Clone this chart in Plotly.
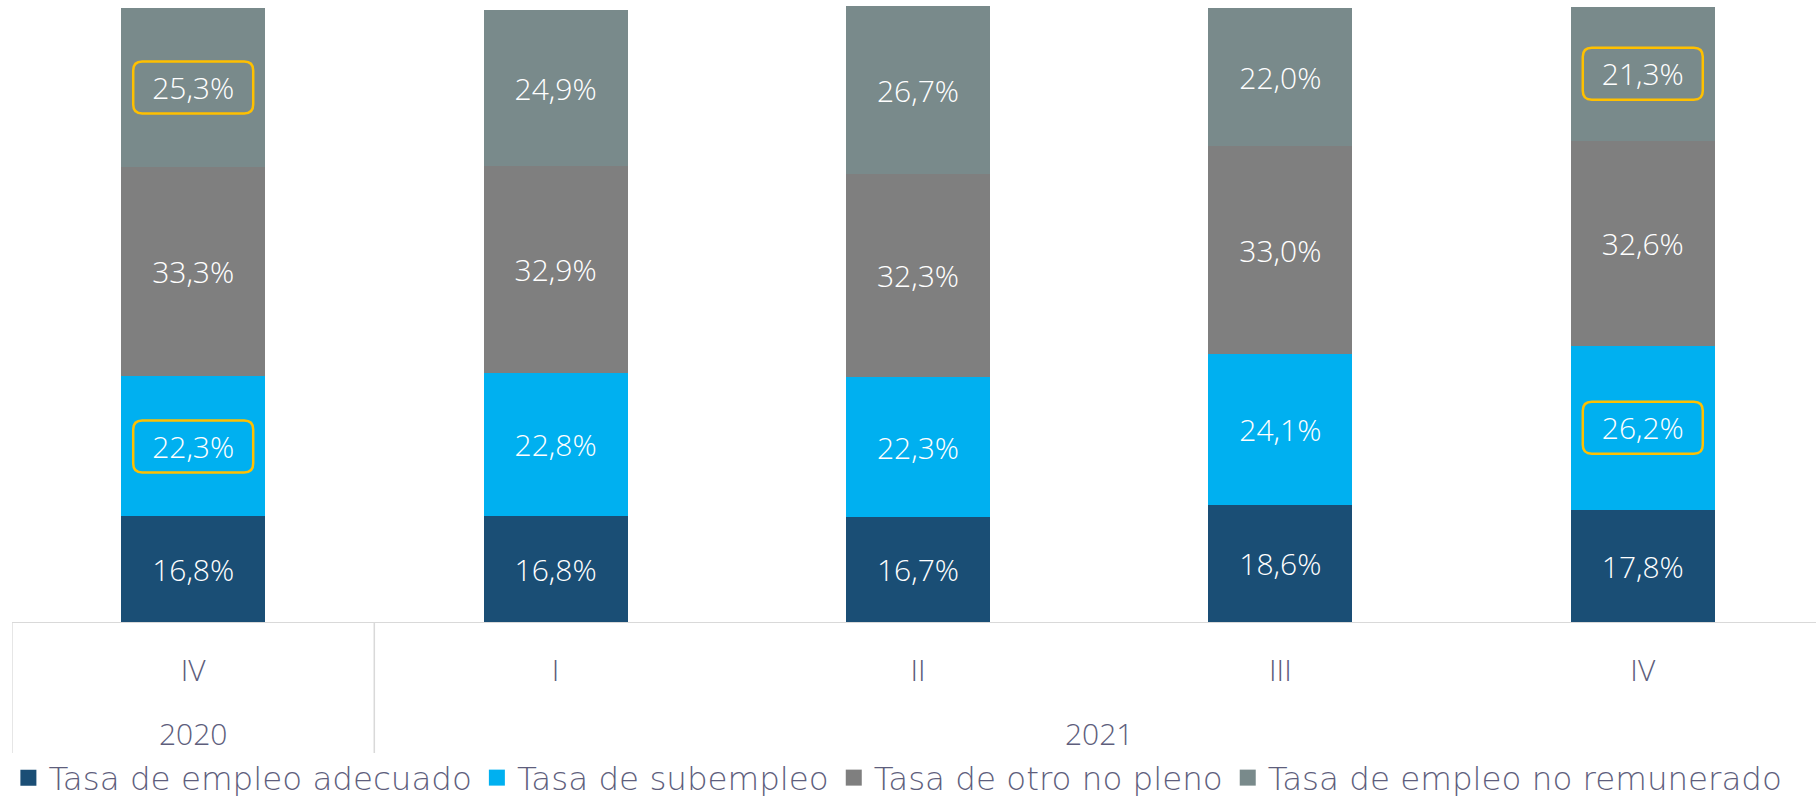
import plotly.graph_objects as go

years = ["2020", "2021", "2021", "2021", "2021"]
quarters = ["IV", "I", "II", "III", "IV"]

series_names = [
    "Tasa de empleo adecuado",
    "Tasa de subempleo",
    "Tasa de otro no pleno",
    "Tasa de empleo no remunerado",
]
adecuado = [16.8, 16.8, 16.7, 18.6, 17.8]
subempleo = [22.3, 22.8, 22.3, 24.1, 26.2]
otro_no_pleno = [33.3, 32.9, 32.3, 33.0, 32.6]
no_remunerado = [25.3, 24.9, 26.7, 22.0, 21.3]
series_values = [adecuado, subempleo, otro_no_pleno, no_remunerado]
colors = ["#1A4E75", "#00B0F0", "#7F7F7F", "#798A8B"]

# (series index, category index) of highlighted labels
highlights = [(3, 0), (1, 0), (3, 4), (1, 4)]

FONT = "Open Sans"
LEGEND_FONT = "DejaVu Sans"
TEXT_COLOR = "#5E5E7C"
GRID = "#D9D9D9"

positions = list(range(len(quarters)))

def fmt(v):
    return f"{v:.1f}".replace(".", ",") + "%"

fig = go.Figure()
for name, vals, col in zip(series_names, series_values, colors):
    fig.add_trace(go.Bar(
        x=positions,
        y=vals,
        name=name,
        showlegend=False,
        marker=dict(color=col, line=dict(width=0)),
        text=[fmt(v) for v in vals],
        textposition="inside",
        insidetextanchor="middle",
        constraintext="none",
        textfont=dict(color="white", size=30, family=FONT, weight=300),
        hoverinfo="skip",
    ))
# legend entries with larger square symbols
for name, col in zip(series_names, colors):
    fig.add_trace(go.Scatter(
        x=[None], y=[None], mode="markers", name=name,
        marker=dict(symbol="square", size=16, color=col),
        hoverinfo="skip",
    ))

# highlight boxes (rounded rectangles around labels)
w, h, r = 120, 52, 9
hw, hh = w / 2, h / 2
path = (f"M{-hw + r},{-hh} L{hw - r},{-hh} Q{hw},{-hh} {hw},{-hh + r} "
        f"L{hw},{hh - r} Q{hw},{hh} {hw - r},{hh} L{-hw + r},{hh} "
        f"Q{-hw},{hh} {-hw},{hh - r} L{-hw},{-hh + r} Q{-hw},{-hh} {-hw + r},{-hh} Z")
for si, ci in highlights:
    base = sum(series_values[k][ci] for k in range(si))
    yc = base + series_values[si][ci] / 2
    fig.add_shape(
        type="path", xref="x", yref="y",
        xsizemode="pixel", ysizemode="pixel",
        xanchor=positions[ci], yanchor=yc, path=path,
        line=dict(color="#FFC000", width=2.5),
        fillcolor="rgba(0,0,0,0)", layer="above",
    )

# year group labels and dividers
PLOT_H = 617
year_label_y = -(733 - 622) / PLOT_H
divider_bottom = -(753 - 622) / PLOT_H
groups = []
for i, yv in enumerate(years):
    if groups and groups[-1][0] == yv:
        groups[-1][2] = i
    else:
        groups.append([yv, i, i])
for yv, i0, i1 in groups:
    fig.add_annotation(
        x=(positions[i0] + positions[i1]) / 2, xref="x",
        y=year_label_y, yref="paper", yanchor="middle",
        text=yv, showarrow=False,
        font=dict(size=30, family=FONT, color=TEXT_COLOR, weight=300),
    )
    for xb in (positions[i0] - 0.5, positions[i1] + 0.5):
        fig.add_shape(
            type="line", xref="x", yref="paper",
            x0=xb, x1=xb, y0=0, y1=divider_bottom,
            line=dict(color=GRID, width=1.3),
        )

fig.update_layout(
    barmode="stack",
    bargap=0.603,
    width=1816, height=799,
    margin=dict(l=12, r=0, t=5, b=177, autoexpand=False),
    plot_bgcolor="white",
    paper_bgcolor="white",
    font=dict(family=FONT, color=TEXT_COLOR, size=30, weight=300),
    showlegend=True,
    legend=dict(
        orientation="h", x=-0.002, xanchor="left",
        y=-(778 - 622) / PLOT_H, yanchor="middle",
        font=dict(size=32.5, family=LEGEND_FONT, color=TEXT_COLOR, weight=200),
        traceorder="normal", itemclick=False, itemdoubleclick=False,
        bgcolor="rgba(0,0,0,0)",
    ),
    xaxis=dict(
        range=[-0.5, 4.478],
        tickvals=positions, ticktext=quarters,
        showline=True, linecolor=GRID, linewidth=1.3,
        ticks="", ticklabelstandoff=22,
        tickfont=dict(size=30, family=FONT, color=TEXT_COLOR, weight=300),
        showgrid=False, zeroline=False, automargin=False,
    ),
    yaxis=dict(
        range=[0, 98.2], visible=False, showgrid=False, zeroline=False,
        automargin=False,
    ),
)

fig.write_html(
    "out.html",
    config={"displayModeBar": False},
    post_script="document.body.style.margin='0';document.body.style.overflow='hidden';",
)
